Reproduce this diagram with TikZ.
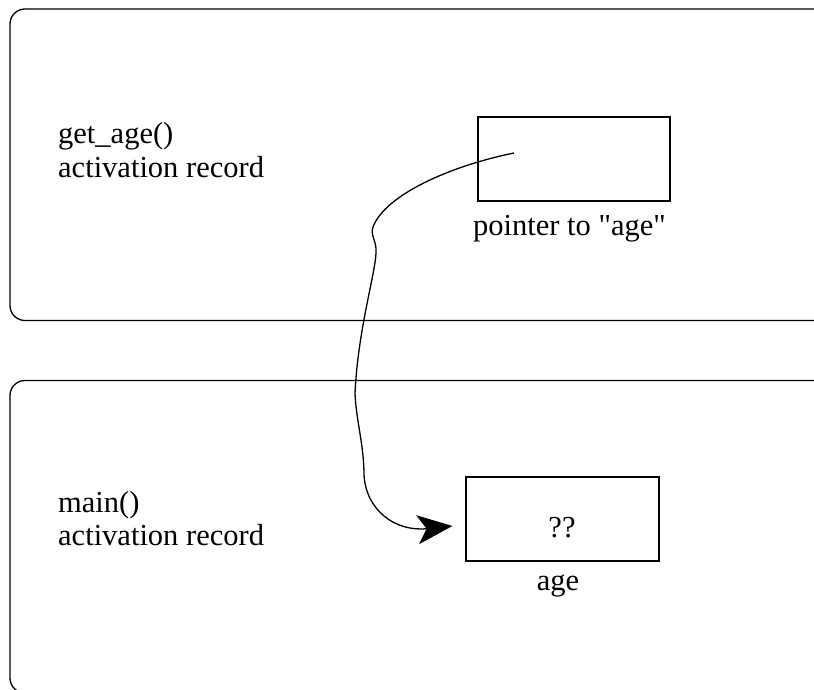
\documentclass[tikz,border=0pt]{standalone}
\usepackage{fontspec}
\newfontfamily\timesfont{Liberation Serif}
\usetikzlibrary{arrows.meta,calc}
\begin{document}
\begin{tikzpicture}[x=1pt,y=-1pt,
  lbl/.style={inner sep=0pt,font=\timesfont\fontsize{30.5}{36}\selectfont},
  frame/.style={draw,line width=1.3pt,rounded corners=15pt},
  cell/.style={draw,line width=1.1pt,minimum width=192pt,minimum height=84pt,inner sep=0pt},
  link/.style={line width=1.3pt,-{Stealth[length=35pt,width=29pt,inset=9pt]}}]
\useasboundingbox (0,0) rectangle (814,690);
\clip (0,0) rectangle (814,690);
% activation record frames
\draw[frame] (840,9) -- (10,9) -- (10,320.5) -- (840,320.5);
\draw[frame] (840,380.5) -- (10,380.5) -- (10,693) -- (840,693);
% labels
\node[lbl,anchor=base west] (g1) at (58,144) {get\_age()};
\node[lbl,anchor=base west] (g2) at (58,177) {activation record};
\node[lbl,anchor=base west] (m1) at (58,512) {main()};
\node[lbl,anchor=base west] (m2) at (58,545) {activation record};
% cells
\node[cell] (ptr) at (574,159) {};
\node[lbl,anchor=base] (ptrlbl) at (569.5,235) {pointer to "age"};
\node[cell,minimum width=193pt] (age) at (562.5,519) {};
\node[lbl,anchor=base] (q) at (562,537) {??};
\node[lbl,anchor=base] (agelbl) at (558,590) {age};
% pointer
\coordinate (start) at (514,153);
\coordinate (tip) at ($(age.west)+(-13,7)$);
\draw[link] (start) .. controls (450,166) and (385,195) .. (373,227)
  .. controls (370,236) and (377,241) .. (376,253)
  .. controls (375,275) and (358,330) .. (355,393)
  .. controls (356,420) and (364,445) .. (364,475)
  .. controls (366,510) and (395,532) .. (tip);
\end{tikzpicture}
\end{document}
